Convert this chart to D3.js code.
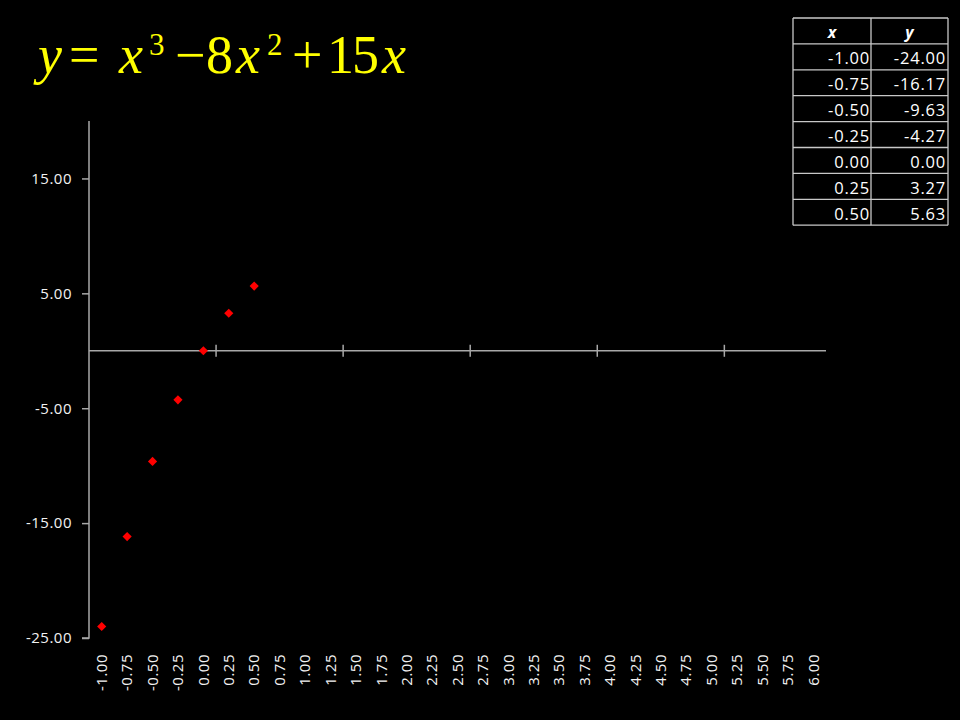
<!DOCTYPE html>
<html>
<head>
<meta charset="utf-8">
<script src="https://cdn.jsdelivr.net/npm/d3@7"></script>
<style>
  html, body { margin: 0; padding: 0; background: #000; }
  svg { display: block; }
</style>
</head>
<body>
<svg id="chart" width="960" height="720"></svg>
<script>
// ---- data ----
const categories = ["-1.00","-0.75","-0.50","-0.25","0.00","0.25","0.50","0.75","1.00","1.25","1.50","1.75","2.00","2.25","2.50","2.75","3.00","3.25","3.50","3.75","4.00","4.25","4.50","4.75","5.00","5.25","5.50","5.75","6.00"];
const xValues = ["-1.00","-0.75","-0.50","-0.25","0.00","0.25","0.50"];
const yValues = [-24.00, -16.17, -9.63, -4.27, 0.00, 3.27, 5.63];
const yTicks = [-25, -15, -5, 5, 15];
const xMajorTickIdx = [5, 10, 15, 20, 25];
const tableHeader = ["x", "y"];

(function () {
const locale = d3.formatLocale({ decimal: ".", thousands: ",", grouping: [3], currency: ["", ""], minus: "-" });
const fmt = locale.format(".2f");

const svg = d3.select("#chart");
svg.append("rect").attr("width", 960).attr("height", 720).attr("fill", "#000");

const pLeft = 89, pRight = 826, pTop = 121, pBottom = 638;
const x = d3.scaleBand().domain(categories).range([pLeft, pRight]).padding(0);
const y = d3.scaleLinear().domain([-25, 20]).range([pBottom, pTop]);
const axisColor = "#a8a8a8";
const textFont = "'Open Sans', sans-serif";

// y axis
const yAxis = svg.append("g")
  .attr("transform", `translate(${pLeft},0)`)
  .call(d3.axisLeft(y).tickValues(yTicks).tickSize(7).tickPadding(10).tickFormat(fmt));
yAxis.select(".domain").attr("stroke", axisColor).attr("stroke-width", 1.5).attr("d", `M0,${pTop}V${pBottom}H-7`);
yAxis.selectAll(".tick line").attr("stroke", axisColor).attr("stroke-width", 1.5);
yAxis.selectAll(".tick text").attr("fill", "#f2f2f2").attr("font-family", textFont).attr("font-size", 15).attr("letter-spacing", "0.5px");

// x axis line at y = 0
const y0 = y(0);
svg.append("line").attr("x1", pLeft).attr("x2", pRight).attr("y1", y0).attr("y2", y0)
  .attr("stroke", axisColor).attr("stroke-width", 1.5);
svg.selectAll(".xtick").data(xMajorTickIdx).enter().append("line")
  .attr("class", "xtick")
  .attr("x1", d => x(categories[d])).attr("x2", d => x(categories[d]))
  .attr("y1", y0 - 6).attr("y2", y0 + 6)
  .attr("stroke", axisColor).attr("stroke-width", 1.5);

// x labels (low position, rotated)
svg.selectAll(".xlab").data(categories).enter().append("text")
  .attr("class", "xlab")
  .attr("transform", d => `translate(${x(d) + x.bandwidth() / 2},654) rotate(-90)`)
  .attr("text-anchor", "end")
  .attr("dy", "0.35em")
  .attr("fill", "#f2f2f2")
  .attr("font-family", textFont)
  .attr("font-size", 15)
  .attr("letter-spacing", "0.5px")
  .text(d => d);

// points (diamonds)
const pts = xValues.map((v, i) => ({ x: v, y: yValues[i] }));
svg.selectAll(".pt").data(pts).enter().append("path")
  .attr("class", "pt")
  .attr("d", d3.symbol().type(d3.symbolSquare).size(42))
  .attr("transform", d => `translate(${x(d.x) + x.bandwidth() / 2},${y(d.y)}) rotate(45)`)
  .attr("fill", "#ff0000");

// ---- title (equation) ----
const title = svg.append("g").attr("fill", "#ffff00").attr("font-family", "'Liberation Serif', 'Times New Roman', serif");
const eqParts = [
  { t: "y", x: 38, italic: true, big: true },
  { t: "=", x: 69, italic: false, big: true },
  { t: "x", x: 119, italic: true, big: true },
  { t: "3", x: 149, italic: false, big: false },
  { t: "\u2212", x: 175, italic: false, big: true },
  { t: "8", x: 206, italic: false, big: true },
  { t: "x", x: 236, italic: true, big: true },
  { t: "2", x: 267, italic: false, big: false },
  { t: "+", x: 292, italic: false, big: true },
  { t: "15", x: 327, italic: false, big: true },
  { t: "x", x: 382, italic: true, big: true }
];
title.selectAll("text").data(eqParts).enter().append("text")
  .attr("x", d => d.x)
  .attr("y", d => d.big ? 73 : 55)
  .attr("font-size", d => d.big ? 54 : 31)
  .attr("font-style", d => d.italic ? "italic" : "normal")
  .attr("letter-spacing", d => d.t === "15" ? "-2px" : "0px")
  .text(d => d.t);

// ---- table ----
const tX0 = 793, tX1 = 871, tX2 = 948, tY0 = 18, rowH = 25.9;
const nRows = xValues.length + 1;
const tbl = svg.append("g");
const lineColor = "#c8c8c8";
for (let r = 0; r <= nRows; r++) {
  tbl.append("line").attr("x1", tX0).attr("x2", tX2)
    .attr("y1", tY0 + r * rowH).attr("y2", tY0 + r * rowH)
    .attr("stroke", lineColor).attr("stroke-width", 1.3);
}
[tX0, tX1, tX2].forEach(cx => {
  tbl.append("line").attr("x1", cx).attr("x2", cx)
    .attr("y1", tY0).attr("y2", tY0 + nRows * rowH)
    .attr("stroke", lineColor).attr("stroke-width", 1.3);
});
tbl.selectAll(".hdr").data(tableHeader).enter().append("text")
  .attr("class", "hdr")
  .attr("x", (d, i) => i === 0 ? (tX0 + tX1) / 2 : (tX1 + tX2) / 2)
  .attr("y", tY0 + 20)
  .attr("text-anchor", "middle")
  .attr("font-family", textFont).attr("font-size", 16)
  .attr("font-weight", "bold").attr("font-style", "italic")
  .attr("fill", "#ffffff")
  .text(d => d);
const rows = xValues.map((v, i) => [v, fmt(yValues[i])]);
rows.forEach((row, i) => {
  row.forEach((cell, j) => {
    tbl.append("text")
      .attr("x", j === 0 ? tX1 - 1 : tX2 - 2)
      .attr("y", tY0 + (i + 1) * rowH + 20.5)
      .attr("text-anchor", "end")
      .attr("font-family", textFont).attr("font-size", 16.5)
      .attr("letter-spacing", "0.8px")
      .attr("fill", "#ffffff")
      .text(cell);
  });
});
})();
</script>
</body>
</html>
